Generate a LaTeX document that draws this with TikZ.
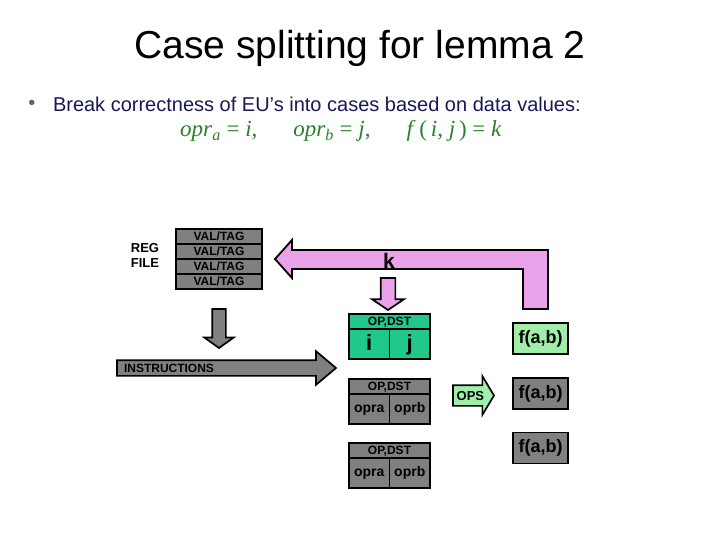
\documentclass[tikz,border=0pt]{standalone}
\usepackage{fontspec}
\setmainfont{Liberation Sans}
\newfontfamily\eqfont{Liberation Serif}
\usetikzlibrary{arrows.meta, shapes.arrows, positioning}

\definecolor{pinkfill}{RGB}{234,162,234}
\definecolor{tealfill}{RGB}{32,200,140}
\definecolor{mintfill}{RGB}{160,238,170}
\definecolor{grayfill}{RGB}{128,128,128}
\definecolor{pointtext}{RGB}{24,24,84}
\definecolor{eqgreen}{RGB}{44,128,44}

\begin{document}
\begin{tikzpicture}[
  x=1pt, y=-1pt, on grid, node distance=15pt,
  every node/.style={inner sep=0pt, outer sep=0pt},
  reg/.style={draw, line width=1.7pt, fill=grayfill, minimum width=86pt, minimum height=15pt,
    text=black, text height=8.8pt, text depth=0pt, font=\bfseries\fontsize{12}{12}\selectfont},
  hdr/.style={draw, line width=1.7pt, minimum width=81pt, minimum height=15pt,
    text height=8.6pt, text depth=0pt, font=\bfseries\fontsize{12}{12}\selectfont},
  cell/.style={draw, line width=1.7pt, minimum width=40.5pt, minimum height=30pt,
    text height=10pt, text depth=3pt, font=\bfseries\fontsize{14}{14}\selectfont},
  bigcell/.style={cell, text height=15pt, text depth=2pt, font=\bfseries\fontsize{22}{22}\selectfont},
  res/.style={draw, line width=1.7pt, minimum width=55pt, minimum height=31pt,
    text height=13pt, text depth=4pt, font=\bfseries\fontsize{18}{18}\selectfont},
  blockarrow/.style={single arrow, draw, line width=1.7pt, single arrow head indent=0pt, anchor=tail},
  ]
  \useasboundingbox (0,0) rectangle (720,540);

  % heading
  \node[anchor=base] (title) at (360,59) {\fontsize{39}{42}\selectfont Case splitting for lemma 2};
  \node[text=pointtext!70] (dot) at (32,105) {\fontsize{20}{20}\selectfont\textbullet};
  \node[anchor=base west, text=pointtext] (point) at (53,112)
    {\fontsize{20}{20}\selectfont Break correctness of EU's into cases based on data values:};
  \node[anchor=base, text=eqgreen] (cases) at (341,137)
    {\eqfont\fontsize{23}{23}\selectfont \textit{opr}\textsubscript{\textit{a}} = \textit{i},\hspace{36pt}%
     \textit{opr}\textsubscript{\textit{b}} = \textit{j},\hspace{36pt}\textit{f}\,(\,\textit{i}, \textit{j}\,) = \textit{k}};

  % register file
  \node[align=center, font=\bfseries\fontsize{13}{15}\selectfont] (regfile) at (145,255) {REG\\FILE};
  \node[reg] (row1) at (219,236.5) {VAL/TAG};
  \node[reg] (row2) [below=of row1] {VAL/TAG};
  \node[reg] (row3) [below=of row2] {VAL/TAG};
  \node[reg] (row4) [below=of row3] {VAL/TAG};

  % result written back
  \draw[line width=1.8pt, fill=pinkfill] (275,259) -- (292,240) -- (292,250) -- (548,250) -- (548,309)
    -- (523,309) -- (523,269) -- (292,269) -- (292,278) -- cycle;
  \node[font=\bfseries\fontsize{21}{21}\selectfont] (k) at (389,261) {k};
  \node[blockarrow, fill=pinkfill, shape border rotate=270, inner sep=6.5pt, minimum height=32pt,
    minimum width=30pt, single arrow head extend=8.5pt, single arrow tip angle=112] (kdown) at (388,278) {};

  % instruction stream
  \node[blockarrow, fill=grayfill, shape border rotate=270, inner sep=6pt, minimum height=39pt,
    minimum width=28pt, single arrow head extend=8pt, single arrow tip angle=109] (regdown) at (219,309) {};
  \node[blockarrow, fill=grayfill, inner sep=7pt, minimum height=219pt, minimum width=32pt,
    single arrow head extend=9pt, single arrow tip angle=80] (instr) at (117,368) {};
  \node[anchor=west, text=black, font=\bfseries\fontsize{12}{12}\selectfont] (instrtext) at (124,368) {INSTRUCTIONS};

  % entries
  \node[hdr, fill=tealfill] (hdr1) at (389.5,321.5) {OP,DST};
  \node[bigcell, fill=tealfill] (i) [below left=22.5pt and 20.25pt of hdr1] {i};
  \node[bigcell, fill=tealfill] (j) [below right=22.5pt and 20.25pt of hdr1] {j};

  \node[hdr, fill=grayfill] (hdr2) [below=65pt of hdr1] {OP,DST};
  \node[cell, fill=grayfill] (opra2) [below left=22.5pt and 20.25pt of hdr2] {opra};
  \node[cell, fill=grayfill] (oprb2) [below right=22.5pt and 20.25pt of hdr2] {oprb};

  \node[hdr, fill=grayfill] (hdr3) [below=64pt of hdr2] {OP,DST};
  \node[cell, fill=grayfill] (opra3) [below left=22.5pt and 20.25pt of hdr3] {opra};
  \node[cell, fill=grayfill] (oprb3) [below right=22.5pt and 20.25pt of hdr3] {oprb};

  % operations
  \node[blockarrow, fill=mintfill, inner xsep=2pt, inner ysep=4.75pt, text height=9.5pt, text depth=0pt,
    minimum height=41pt, minimum width=37pt, single arrow head extend=9pt, single arrow tip angle=118,
    font=\bfseries\fontsize{13}{13}\selectfont] (ops) at (453,395.5) {OPS};

  \node[res, fill=mintfill] (fab1) at (540.5,338.5) {f(a,b)};
  \node[res, fill=grayfill] (fab2) [below=55pt of fab1] {f(a,b)};
  \node[res, fill=grayfill] (fab3) [below=54.5pt of fab2] {f(a,b)};
\end{tikzpicture}
\end{document}
